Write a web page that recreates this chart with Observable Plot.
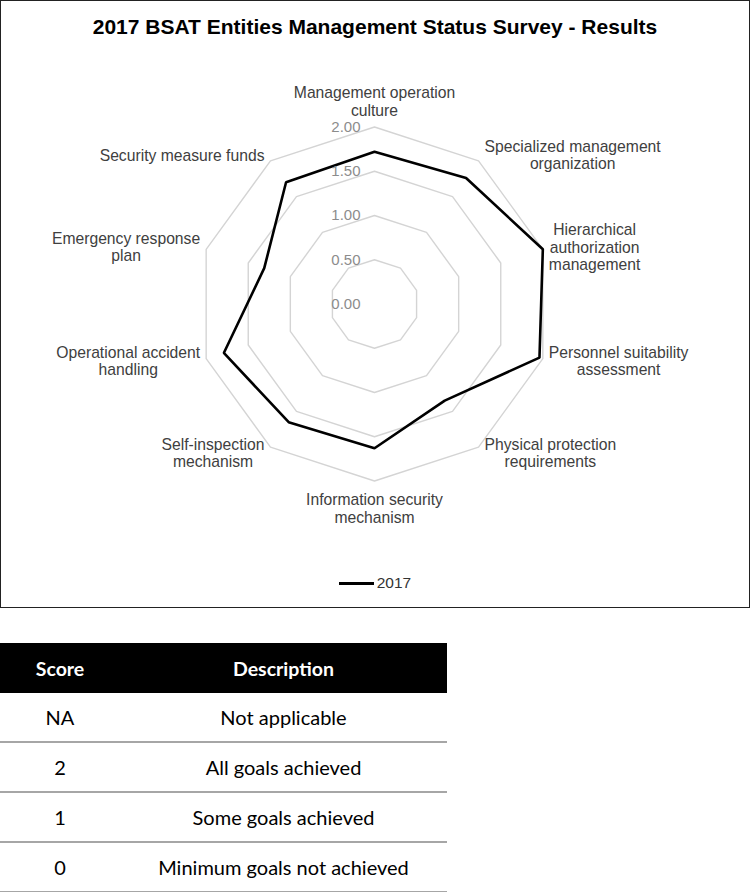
<!DOCTYPE html>
<html>
<head>
<meta charset="utf-8">
<script src="https://cdn.jsdelivr.net/npm/d3@7"></script>
<script src="https://cdn.jsdelivr.net/npm/@observablehq/plot@0.6"></script>
<style>
  body { margin: 0; background: #fff; font-family: "Liberation Sans", Arial, sans-serif; }
  #chart { position: relative; width: 750px; height: 608px; box-sizing: border-box; border: 1.5px solid #222; }
  #title { position: absolute; top: 14px; left: 0; width: 100%; text-align: center; font-weight: bold; font-size: 21px; color: #000; }
  #plot { position: absolute; left: 0; top: 0; }
  #legend { position: absolute; top: 573px; left: 0; width: 100%; display: flex; justify-content: center; align-items: center; font-size: 15.5px; color: #333; }
  #legend .sw { display: inline-block; width: 35px; height: 3px; background: #000; margin-right: 3px; }
  #tbl { position: absolute; top: 643px; left: 0; width: 447px; border-collapse: collapse; font-family: Lato, "Open Sans", sans-serif; font-size: 20px; color: #000; }
  #tbl th { background: #000; color: #fff; font-weight: bold; font-size: 19.5px; height: 50px; padding: 0; }
  #tbl td { height: 48px; padding: 0; text-align: center; border-bottom: 2px solid #a6a6a6; }
  #tbl .c1 { width: 120px; }
</style>
</head>
<body>
<div id="chart">
  <div id="plot"></div>
  <div id="title"></div>
  <div id="legend"><span class="sw"></span><span id="legtext"></span></div>
</div>
<table id="tbl"><thead><tr id="thead"></tr></thead><tbody id="tbody"></tbody></table>
<script>
// ---------- data ----------
const chartTitle = "2017 BSAT Entities Management Status Survey - Results";
const seriesName = "2017";
const categories = [
  "Management operation\nculture",
  "Specialized management\norganization",
  "Hierarchical\nauthorization\nmanagement",
  "Personnel suitability\nassessment",
  "Physical protection\nrequirements",
  "Information security\nmechanism",
  "Self-inspection\nmechanism",
  "Operational accident\nhandling",
  "Emergency response\nplan",
  "Security measure funds"
];
const values2017 = [1.72, 1.76, 2.00, 1.96, 1.35, 1.63, 1.65, 1.79, 1.31, 1.70];
const tickLevels = [0, 0.5, 1, 1.5, 2];
const tickLabels = ["0.00", "0.50", "1.00", "1.50", "2.00"];
const tableHeaders = ["Score", "Description"];
const scores = ["NA", "2", "1", "0"];
const descriptions = ["Not applicable", "All goals achieved", "Some goals achieved", "Minimum goals not achieved"];

// ---------- layout ----------
const W = 747, H = 605;
const cx = 373, cy = 302.5, R = 177;   // pixel centre and radius of the 2.00 ring
const maxV = 2;
const k = R / maxV;                    // px per unit
const n = categories.length;
const ang = i => i * 2 * Math.PI / n;
const toXY = (r, i) => ({ x: r * Math.sin(ang(i)), y: r * Math.cos(ang(i)) });

// rings
const ringLevels = tickLevels.filter(d => d > 0);
const rings = ringLevels.flatMap(l => categories.map((c, i) => ({ level: l, ...toXY(l, i) })));

// data polygon
const pts = values2017.map((v, i) => ({ cat: categories[i], v, ...toXY(v, i) }));

// label placement (measure text)
const fontSize = 15.7, lh = 17.5;
const ctx = document.createElement("canvas").getContext("2d");
ctx.font = `${fontSize}px "Liberation Sans"`;
const labels = categories.map((c, i) => {
  const lines = c.split("\n");
  const w = Math.max(...lines.map(s => ctx.measureText(s).width));
  const h = lines.length * lh;
  const s = Math.sin(ang(i)), co = Math.cos(ang(i));
  const v = toXY(maxV, i);
  let x, y;
  if (Math.abs(s) < 0.01) {
    x = v.x;
    y = v.y + Math.sign(co) * (co > 0 ? 8 + h / 2 : 10 + h / 2) / k;
  } else {
    x = v.x + Math.sign(s) * (6 + w / 2) / k;
    y = v.y + co * 7 / k;
  }
  return { text: c, x, y };
});

const plot = Plot.plot({
  width: W, height: H,
  margin: 0,
  x: { domain: [-maxV, maxV], range: [cx - R, cx + R], axis: null },
  y: { domain: [-maxV, maxV], range: [cy + R, cy - R], axis: null },
  style: { fontFamily: '"Liberation Sans", Arial, sans-serif', background: "transparent", overflow: "visible" },
  marks: [
    Plot.line(rings, { x: "x", y: "y", z: "level", curve: "linear-closed", stroke: "#d4d4d4", strokeWidth: 1.4 }),
    Plot.line(pts, { x: "x", y: "y", curve: "linear-closed", stroke: "#000", strokeWidth: 2.6, strokeLinejoin: "miter" }),
    Plot.text(tickLevels, { x: () => 0, y: d => d, text: (d, i) => tickLabels[i], textAnchor: "end", dx: -14, fill: "#8c8c8c", fontSize: 15 }),
    Plot.text(labels, { x: "x", y: "y", text: "text", textAnchor: "middle", lineAnchor: "middle", lineHeight: lh / fontSize, fill: "#404040", fontSize: fontSize })
  ]
});
document.getElementById("plot").append(plot);
document.getElementById("title").textContent = chartTitle;
document.getElementById("legtext").textContent = seriesName;

// table
const thead = document.getElementById("thead");
tableHeaders.forEach((h, i) => { const th = document.createElement("th"); th.textContent = h; if (i === 0) th.className = "c1"; thead.append(th); });
const tbody = document.getElementById("tbody");
scores.forEach((s, i) => {
  const tr = document.createElement("tr");
  const a = document.createElement("td"); a.textContent = s; a.className = "c1";
  const b = document.createElement("td"); b.textContent = descriptions[i];
  tr.append(a, b); tbody.append(tr);
});
</script>
</body>
</html>
